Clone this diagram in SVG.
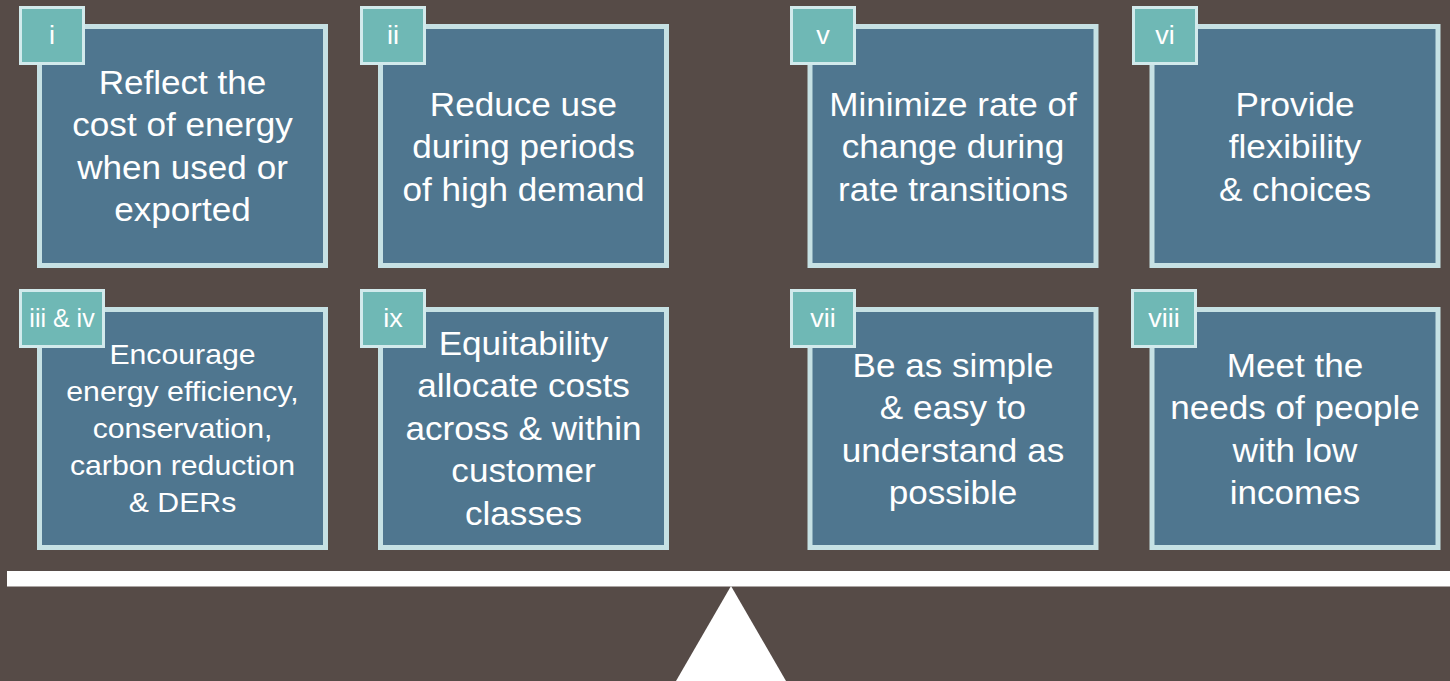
<svg xmlns="http://www.w3.org/2000/svg" width="1450" height="681" viewBox="0 0 1450 681">
<style>
.box{fill:#4F768F;stroke:#C6E1E4;stroke-width:5}
.tag{fill:#6FB8B5;stroke:#D2EAEC;stroke-width:3}
.t{font-family:"Liberation Sans",Arial,sans-serif;fill:#FFFFFF;text-anchor:middle}
.big{font-size:32.5px}
.mid{font-size:28px}
.lbl{font-size:25px}
</style>
<rect x="0" y="0" width="1450" height="681" fill="#564B47"/>
<g id="node-i">
<rect class="box" x="39.5" y="26.5" width="286" height="239"/>
<rect class="tag" x="20.5" y="7.5" width="63" height="56"/>
<text class="t lbl" transform="translate(52 44) scale(1.08 1)">i</text>
<text class="t big" transform="translate(182.5 0) scale(1.08 1)"><tspan x="0" y="94">Reflect the</tspan><tspan x="0" y="136.3">cost of energy</tspan><tspan x="0" y="178.6">when used or</tspan><tspan x="0" y="221">exported</tspan></text>
</g>
<g id="node-ii">
<rect class="box" x="380.5" y="26.5" width="286" height="239"/>
<rect class="tag" x="361.5" y="7.5" width="63" height="56"/>
<text class="t lbl" transform="translate(393 44) scale(1.08 1)">ii</text>
<text class="t big" transform="translate(523.5 0) scale(1.08 1)"><tspan x="0" y="116">Reduce use</tspan><tspan x="0" y="158.5">during periods</tspan><tspan x="0" y="201">of high demand</tspan></text>
</g>
<g id="node-v">
<rect class="box" x="810" y="26.5" width="286" height="239"/>
<rect class="tag" x="791.5" y="7.5" width="63" height="56"/>
<text class="t lbl" transform="translate(823 44) scale(1.08 1)">v</text>
<text class="t big" transform="translate(953 0) scale(1.08 1)"><tspan x="0" y="116">Minimize rate of</tspan><tspan x="0" y="158.5">change during</tspan><tspan x="0" y="201">rate transitions</tspan></text>
</g>
<g id="node-vi">
<rect class="box" x="1152" y="26.5" width="286" height="239"/>
<rect class="tag" x="1133.5" y="7.5" width="63" height="56"/>
<text class="t lbl" transform="translate(1165 44) scale(1.08 1)">vi</text>
<text class="t big" transform="translate(1295 0) scale(1.08 1)"><tspan x="0" y="116">Provide</tspan><tspan x="0" y="158.5">flexibility</tspan><tspan x="0" y="201">&amp; choices</tspan></text>
</g>
<g id="node-iii-iv">
<rect class="box" x="39.5" y="309.5" width="286" height="238"/>
<rect class="tag" x="20.5" y="290.5" width="83" height="56"/>
<text class="t lbl" transform="translate(62 327) scale(1.0 1)">iii &amp; iv</text>
<text class="t mid" transform="translate(182.5 0) scale(1.08 1)"><tspan x="0" y="364">Encourage</tspan><tspan x="0" y="401">energy efficiency,</tspan><tspan x="0" y="438">conservation,</tspan><tspan x="0" y="475">carbon reduction</tspan><tspan x="0" y="512">&amp; DERs</tspan></text>
</g>
<g id="node-ix">
<rect class="box" x="380.5" y="309.5" width="286" height="238"/>
<rect class="tag" x="361.5" y="290.5" width="63" height="56"/>
<text class="t lbl" transform="translate(393 327) scale(1.08 1)">ix</text>
<text class="t big" transform="translate(523.5 0) scale(1.08 1)"><tspan x="0" y="355">Equitability</tspan><tspan x="0" y="397.5">allocate costs</tspan><tspan x="0" y="440">across &amp; within</tspan><tspan x="0" y="482.5">customer</tspan><tspan x="0" y="525">classes</tspan></text>
</g>
<g id="node-vii">
<rect class="box" x="810" y="309.5" width="286" height="238"/>
<rect class="tag" x="791.5" y="290.5" width="63" height="56"/>
<text class="t lbl" transform="translate(823 327) scale(1.08 1)">vii</text>
<text class="t big" transform="translate(953 0) scale(1.08 1)"><tspan x="0" y="377">Be as simple</tspan><tspan x="0" y="419.5">&amp; easy to</tspan><tspan x="0" y="462">understand as</tspan><tspan x="0" y="504.5">possible</tspan></text>
</g>
<g id="node-viii">
<rect class="box" x="1152" y="309.5" width="286" height="238"/>
<rect class="tag" x="1132.5" y="290.5" width="63" height="56"/>
<text class="t lbl" transform="translate(1164 327) scale(1.08 1)">viii</text>
<text class="t big" transform="translate(1295 0) scale(1.08 1)"><tspan x="0" y="377">Meet the</tspan><tspan x="0" y="419.5">needs of people</tspan><tspan x="0" y="462">with low</tspan><tspan x="0" y="504.5">incomes</tspan></text>
</g>
<g id="connectors">
<rect x="7" y="571" width="1443" height="15.5" fill="#FFFFFF"/>
<polygon points="731,586 676,681 786,681" fill="#FFFFFF"/>
</g>
</svg>
